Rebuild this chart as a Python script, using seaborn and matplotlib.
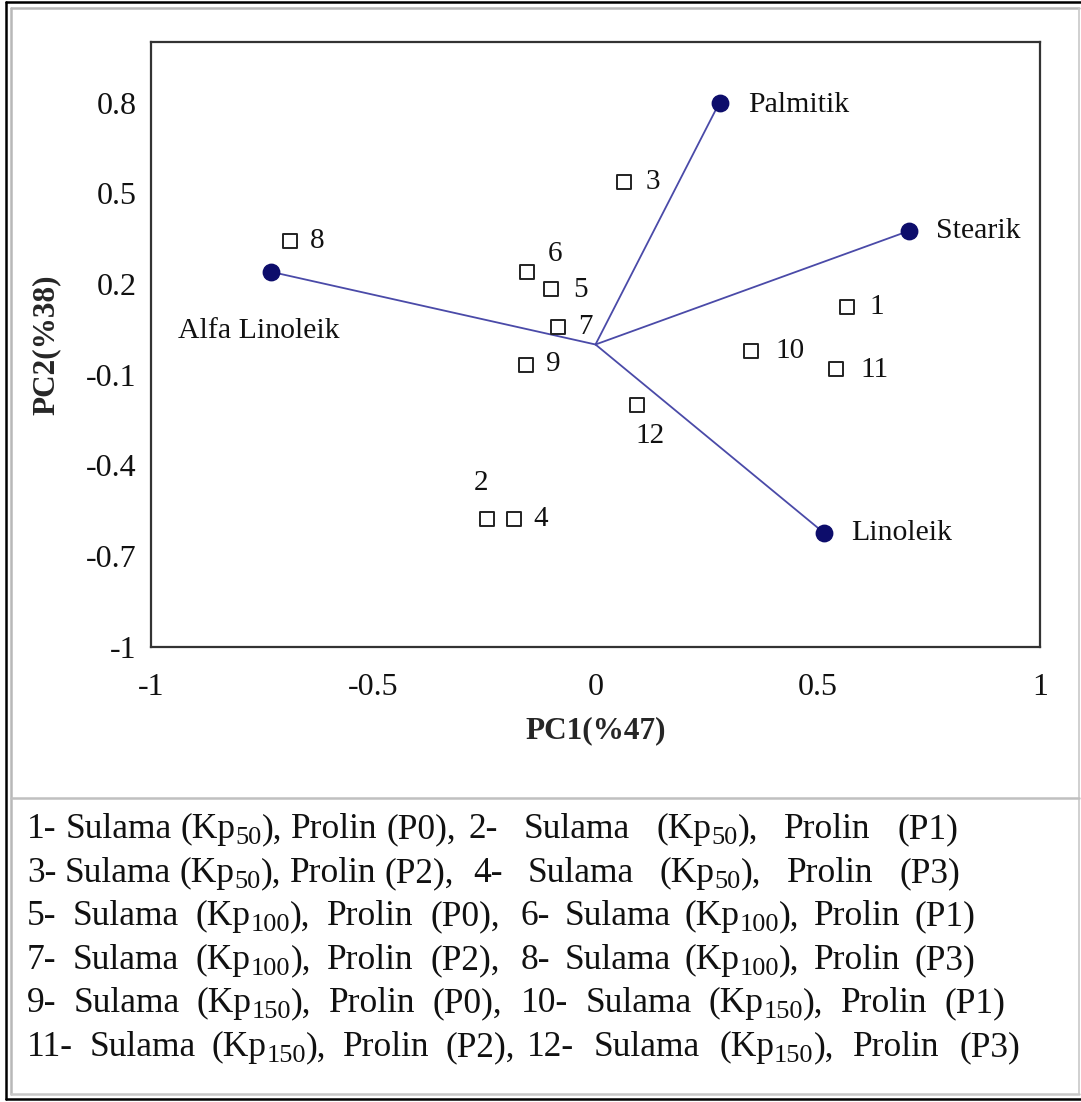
import re
import matplotlib
matplotlib.use("Agg")
import matplotlib.pyplot as plt
import seaborn as sns
import pandas as pd
from matplotlib.lines import Line2D

# ---- data ----
sample_ids = ["1", "2", "3", "4", "5", "6", "7", "8", "9", "10", "11", "12"]
sample_pc1 = [0.565, -0.243, 0.065, -0.184, -0.099, -0.153, -0.085, -0.688, -0.157, 0.349, 0.542, 0.094]
sample_pc2 = [0.125, -0.577, 0.538, -0.577, 0.184, 0.240, 0.058, 0.343, -0.068, -0.021, -0.081, -0.200]

var_names = ["Palmitik", "Stearik", "Alfa Linoleik", "Linoleik"]
var_pc1 = [0.279, 0.706, -0.729, 0.515]
var_pc2 = [0.800, 0.376, 0.240, -0.624]

x_ticks = [-1, -0.5, 0, 0.5, 1]
x_tick_labels = ["-1", "-0.5", "0", "0.5", "1"]
y_ticks = [0.8, 0.5, 0.2, -0.1, -0.4, -0.7, -1]
y_tick_labels = ["0.8", "0.5", "0.2", "-0.1", "-0.4", "-0.7", "-1"]

x_label = "PC1(%47)"
y_label = "PC2(%38)"

legend_left = [
    "1- Sulama (Kp_{50}), Prolin (P0),",
    "3- Sulama (Kp_{50}), Prolin (P2),",
    "5- Sulama (Kp_{100}), Prolin (P0),",
    "7- Sulama (Kp_{100}), Prolin (P2),",
    "9- Sulama (Kp_{150}), Prolin (P0),",
    "11- Sulama (Kp_{150}), Prolin (P2),",
]
legend_right = [
    "2- Sulama (Kp_{50}), Prolin (P1)",
    "4- Sulama (Kp_{50}), Prolin (P3)",
    "6- Sulama (Kp_{100}), Prolin (P1)",
    "8- Sulama (Kp_{100}), Prolin (P3)",
    "10- Sulama (Kp_{150}), Prolin (P1)",
    "12- Sulama (Kp_{150}), Prolin (P3)",
]

# ---- layout (pixel offsets for labels, legend text spans) ----
sample_offsets = {
    "1": (23, 0, "left"), "2": (-6, 36, "center"), "3": (21, 0, "left"),
    "4": (20, 0, "left"), "5": (22, -1, "left"), "6": (28, 18, "center"),
    "7": (20, 0, "left"), "8": (20, 0, "left"), "9": (20, 1, "left"),
    "10": (25, 0, "left"), "11": (24, -1, "left"), "12": (13, -31, "center"),
}
var_offsets = {
    "Palmitik": (29, -2, "left"), "Stearik": (27, 0, "left"),
    "Alfa Linoleik": (-93, -59, "left"), "Linoleik": (27, 0, "left"),
}
row_y = [829, 873, 916, 960, 1003, 1047]
left_span = [(27, 456), (27, 454), (27, 500), (27, 500), (27, 502), (27, 515)]
right_span = [(468, 958), (473, 960), (521, 975), (521, 975), (521, 1005), (527, 1020)]

sns.set_theme(style="white")
plt.rcParams["font.family"] = ["Liberation Serif", "DejaVu Serif"]

W, H = 1081, 1102
fig = plt.figure(figsize=(W / 100, H / 100), dpi=100)
fig.patch.set_facecolor("white")

ax = fig.add_axes([151 / W, 1 - 647 / H, (1040 - 151) / W, (647 - 42) / H])

line_color = "#4a4aa8"
for vx, vy in zip(var_pc1, var_pc2):
    ax.plot([0, vx], [0, vy], color=line_color, lw=1.3, zorder=1)

df_s = pd.DataFrame({"PC1": sample_pc1, "PC2": sample_pc2, "id": sample_ids})
df_v = pd.DataFrame({"PC1": var_pc1, "PC2": var_pc2, "name": var_names})

sns.scatterplot(data=df_s, x="PC1", y="PC2", marker="s", s=110,
                facecolor="white", edgecolor="#222222", linewidth=1.4, ax=ax, zorder=3)
sns.scatterplot(data=df_v, x="PC1", y="PC2", marker="o", s=140,
                color="#0d0d6b", edgecolor="#0d0d6b", linewidth=1, ax=ax, zorder=3)

for sid, sx, sy in zip(sample_ids, sample_pc1, sample_pc2):
    dx, dy, ha = sample_offsets[sid]
    ax.annotate(sid, (sx, sy), xytext=(dx, dy), textcoords="offset pixels",
                ha=ha, va="center", fontsize=21, color="#111111")
for nm, vx, vy in zip(var_names, var_pc1, var_pc2):
    dx, dy, ha = var_offsets[nm]
    ax.annotate(nm, (vx, vy), xytext=(dx, dy), textcoords="offset pixels",
                ha=ha, va="center", fontsize=21.5, color="#111111")

ax.set_xlim(-1, 1)
ax.set_ylim(-1, 1)
ax.set_xticks(x_ticks)
ax.set_xticklabels(x_tick_labels)
ax.set_yticks(y_ticks)
ax.set_yticklabels(y_tick_labels)
ax.tick_params(axis="both", length=0, labelsize=23, colors="#111111")
ax.tick_params(axis="x", pad=18.5)
ax.tick_params(axis="y", pad=10.5)
ax.set_xlabel(x_label, fontsize=22.5, fontweight="bold")
ax.set_ylabel(y_label, fontsize=22.5, fontweight="bold")
ax.xaxis.set_label_coords(0.5, -0.114)
ax.yaxis.set_label_coords(-0.102, 0.5)
for sp in ax.spines.values():
    sp.set_color("#333333")
    sp.set_linewidth(1.6)
ax.grid(False)

# ---- frames ----
def fx(px):
    return px / W

def fy(py):
    return 1 - py / H

frame_lines = [
    ([6, 6], [2, 1099], "black", 1.8),
    ([6, 1081], [2, 2], "black", 1.8),
    ([6, 1081], [1099, 1099], "black", 1.8),
    ([11, 11], [8, 1094], "#b8b8b8", 1.8),
    ([11, 1079], [8, 8], "#b8b8b8", 1.8),
    ([1079, 1079], [8, 1094], "#c8c8c8", 1.2),
    ([11, 1079], [1094, 1094], "#c8c8c8", 1.8),
    ([11, 1079], [798, 798], "#c0c0c0", 1.8),
]
for xs, ys, c, lw in frame_lines:
    fig.add_artist(Line2D([fx(v) for v in xs], [fy(v) for v in ys], color=c, lw=lw))

# ---- legend text (justified words, real subscripts) ----
renderer = fig.canvas.get_renderer()
LEG_FS = 25.5
SUB_FS = 19.0
SUB_DROP = 6  # px


def text_width(s, fs):
    t = fig.text(0, 0, s, fontsize=fs)
    w = t.get_window_extent(renderer).width
    t.remove()
    return w


def pieces_of(word):
    parts = re.split(r"_\{([^}]*)\}", word)
    out = []
    for k, p in enumerate(parts):
        if p:
            out.append((p, k % 2 == 1))
    return out


def word_width(word):
    return sum(text_width(p, SUB_FS if sub else LEG_FS) for p, sub in pieces_of(word))


def justified(text, y, x0, x1):
    words = text.split(" ")
    widths = [word_width(w) for w in words]
    space = text_width("a a", LEG_FS) - text_width("aa", LEG_FS)
    gap = (x1 - x0 - sum(widths)) / max(len(words) - 1, 1)
    gap = max(gap, 0.85 * space)
    x = x0
    for w, ww in zip(words, widths):
        xx = x
        for p, sub in pieces_of(w):
            fs = SUB_FS if sub else LEG_FS
            yy = y + (SUB_DROP if sub else 0)
            fig.text(fx(xx), fy(yy), p, fontsize=fs, ha="left", va="baseline", color="#111111")
            xx += text_width(p, fs)
        x += ww + gap


for i in range(len(row_y)):
    base = row_y[i] + 9
    justified(legend_left[i], base, *left_span[i])
    justified(legend_right[i], base, *right_span[i])

fig.savefig("out.png", dpi=100)
